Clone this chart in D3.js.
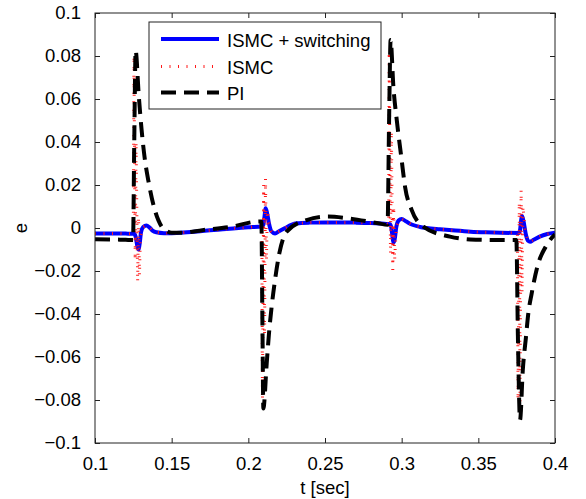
<!DOCTYPE html>
<html>
<head>
<meta charset="utf-8">
<script src="https://cdn.jsdelivr.net/npm/d3@7"></script>
<style>
  body { margin: 0; background: #fff; }
  svg text { font-family: "Liberation Sans", Arial, sans-serif; }
</style>
</head>
<body>
<svg id="chart" width="586" height="499"></svg>
<script>
// data: [t (sec), e]
var xTicks = [0.1, 0.15, 0.2, 0.25, 0.3, 0.35, 0.4];
var yTicks = [-0.1, -0.08, -0.06, -0.04, -0.02, 0, 0.02, 0.04, 0.06, 0.08, 0.1];
var seriesNames = ['ISMC + switching', 'ISMC', 'PI'];

var ismcSwitching = [
  [0.100,-0.0025],[0.110,-0.0025],[0.120,-0.0026],[0.1255,-0.0027],[0.1265,-0.004],
  [0.1275,-0.008],[0.1283,-0.010],[0.1292,-0.007],[0.130,-0.002],[0.1315,0.0005],
  [0.1335,0.0012],[0.1355,0.0003],[0.1375,-0.0012],[0.140,-0.002],[0.145,-0.0024],
  [0.150,-0.0024],[0.160,-0.002],[0.170,-0.0014],[0.180,-0.0008],[0.190,-0.0002],
  [0.200,0.0003],[0.209,0.0008],[0.2098,0.0015],[0.2105,0.005],[0.2113,0.0092],
  [0.2122,0.007],[0.2135,0.002],[0.215,-0.0015],[0.2174,-0.0025],[0.220,-0.0015],
  [0.224,0.0],[0.228,0.0015],[0.2315,0.0022],[0.240,0.0025],[0.250,0.0026],
  [0.260,0.0026],[0.270,0.0025],[0.280,0.0023],[0.290,0.0019],[0.2925,0.0018],
  [0.2933,0.0],[0.294,-0.004],[0.2946,-0.0068],[0.2955,-0.005],[0.2965,0.0005],
  [0.298,0.0035],[0.300,0.0042],[0.303,0.003],[0.307,0.0015],[0.312,0.0005],
  [0.3163,0.0],[0.325,-0.0006],[0.335,-0.0012],[0.345,-0.0017],[0.355,-0.002],
  [0.365,-0.0022],[0.3765,-0.0023],[0.3772,-0.001],[0.378,0.004],[0.3785,0.0056],
  [0.3795,0.003],[0.381,-0.003],[0.3825,-0.006],[0.3837,-0.0064],[0.386,-0.0055],
  [0.390,-0.004],[0.395,-0.0028],[0.400,-0.0022]
];

var ismc = [
  [0.100,-0.0025],[0.110,-0.0025],[0.120,-0.0026],[0.1250,-0.0027],
  [0.1254,0.080],[0.1262,-0.015],[0.1268,0.040],[0.1278,-0.025],[0.1284,0.005],
  [0.1290,-0.022],[0.1296,-0.004],
  [0.1315,0.0005],[0.1335,0.0012],[0.1355,0.0003],[0.1375,-0.0012],[0.140,-0.002],
  [0.145,-0.0024],[0.150,-0.0024],[0.160,-0.002],[0.170,-0.0014],[0.180,-0.0008],
  [0.190,-0.0002],[0.200,0.0003],[0.2088,0.0008],
  [0.2092,-0.080],[0.2100,0.020],[0.2106,-0.050],[0.2112,0.023],[0.2118,-0.015],
  [0.2124,0.008],[0.2135,0.002],
  [0.215,-0.0015],[0.2174,-0.0025],[0.220,-0.0015],[0.224,0.0],[0.228,0.0015],
  [0.2315,0.0022],[0.240,0.0025],[0.250,0.0026],[0.260,0.0026],[0.270,0.0025],
  [0.280,0.0023],[0.290,0.0019],[0.2915,0.0018],
  [0.2919,0.082],[0.2927,-0.012],[0.2933,0.045],[0.2942,-0.0195],[0.2948,0.010],
  [0.2954,-0.015],[0.2965,0.0005],
  [0.298,0.0035],[0.300,0.0042],[0.303,0.003],[0.307,0.0015],[0.312,0.0005],
  [0.3163,0.0],[0.325,-0.0006],[0.335,-0.0012],[0.345,-0.0017],[0.355,-0.002],
  [0.365,-0.0022],[0.3755,-0.0023],
  [0.3759,-0.080],[0.3767,0.012],[0.3772,-0.081],[0.3779,0.0177],[0.3785,-0.030],
  [0.3791,0.010],[0.3805,-0.001],
  [0.381,-0.003],[0.3825,-0.006],[0.3837,-0.0064],[0.386,-0.0055],[0.390,-0.004],
  [0.395,-0.0028],[0.400,-0.0022]
];

var piCtrl = [
  [0.100,-0.0052],[0.110,-0.0053],[0.120,-0.0055],[0.1248,-0.0056],
  [0.1256,0.040],[0.1265,0.0825],[0.1285,0.062],[0.1304,0.0456],[0.1325,0.032],
  [0.1348,0.022],[0.139,0.0084],[0.1435,0.0006],[0.147,-0.0015],[0.150,-0.0022],
  [0.1565,-0.0022],[0.170,-0.0010],[0.1913,0.0009],[0.2043,0.0029],[0.2085,0.003],
  [0.2092,-0.045],[0.2098,-0.0839],[0.212,-0.0628],[0.2135,-0.0488],[0.2152,-0.0366],
  [0.2174,-0.0242],[0.2202,-0.0118],[0.225,-0.0017],[0.238,0.0037],[0.252,0.0053],
  [0.265,0.0045],[0.2847,0.0022],[0.2908,0.0015],
  [0.2918,0.050],[0.2928,0.0874],[0.2946,0.0657],[0.2968,0.0502],[0.300,0.0316],
  [0.3022,0.0192],[0.3065,0.0084],[0.3141,0.0006],[0.3315,-0.004],[0.3446,-0.0053],
  [0.361,-0.0056],[0.3748,-0.0056],
  [0.3758,-0.050],[0.3772,-0.0893],[0.379,-0.066],[0.3811,-0.0505],[0.3826,-0.0397],
  [0.3848,-0.0304],[0.3885,-0.018],[0.3946,-0.0079],[0.400,-0.003]
];

var margin = {top: 13, right: 31, bottom: 56, left: 95},
    width = 586 - margin.left - margin.right,
    height = 499 - margin.top - margin.bottom;

var svg = d3.select('#chart');
var g = svg.append('g')
    .attr('transform', 'translate(' + margin.left + ',' + margin.top + ')');

var x = d3.scaleLinear().domain([0.1, 0.4]).range([0, width]);
var y = d3.scaleLinear().domain([-0.1, 0.1]).range([height, 0]);

var fmt = function(d) { return d3.format('')(+d.toFixed(3)).replace('-', '\u2212'); };

g.append('clipPath').attr('id', 'clip')
  .append('rect').attr('width', width).attr('height', height);

var smooth = d3.line()
    .x(function(d) { return x(d[0]); })
    .y(function(d) { return y(d[1]); })
    .curve(d3.curveMonotoneX);
var straight = d3.line()
    .x(function(d) { return x(d[0]); })
    .y(function(d) { return y(d[1]); });

var plot = g.append('g').attr('clip-path', 'url(#clip)');

plot.append('path')
    .datum(ismcSwitching)
    .attr('d', smooth)
    .attr('fill', 'none')
    .attr('stroke', '#0000ff')
    .attr('stroke-width', 4)
    .attr('stroke-linejoin', 'round');

plot.append('path')
    .datum(ismc)
    .attr('d', straight)
    .attr('fill', 'none')
    .attr('stroke', '#ff1a1a')
    .attr('stroke-width', 3)
    .attr('stroke-dasharray', '1,7.5');

plot.append('path')
    .datum(piCtrl)
    .attr('d', smooth)
    .attr('fill', 'none')
    .attr('stroke', '#000')
    .attr('stroke-width', 4)
    .attr('stroke-dasharray', '15,8');

// axes, ticks inside on all four sides
var axisColor = '#222';
function styleAxis(sel) {
  sel.select('.domain').remove();
  sel.selectAll('line').attr('stroke', axisColor);
  sel.selectAll('text')
    .attr('fill', '#000')
    .style('font-size', '18.5px');
}

g.append('g')
  .attr('transform', 'translate(0,' + height + ')')
  .call(d3.axisBottom(x).tickValues(xTicks).tickSize(-5).tickPadding(14).tickFormat(fmt))
  .call(styleAxis);

g.append('g')
  .call(d3.axisTop(x).tickValues(xTicks).tickSize(-5).tickFormat(''))
  .call(styleAxis);

g.append('g')
  .call(d3.axisLeft(y).tickValues(yTicks).tickSize(-5).tickPadding(14).tickFormat(fmt))
  .call(styleAxis);

g.append('g')
  .attr('transform', 'translate(' + width + ',0)')
  .call(d3.axisRight(y).tickValues(yTicks).tickSize(-5).tickFormat(''))
  .call(styleAxis);

g.append('rect')
  .attr('width', width).attr('height', height)
  .attr('fill', 'none')
  .attr('stroke', axisColor)
  .attr('stroke-width', 1);

// axis labels
svg.append('text')
  .attr('x', margin.left + width / 2)
  .attr('y', 494)
  .attr('text-anchor', 'middle')
  .style('font-size', '18.5px')
  .text('t [sec]');

svg.append('text')
  .attr('transform', 'translate(27,' + (margin.top + height / 2) + ') rotate(-90)')
  .attr('text-anchor', 'middle')
  .style('font-size', '18.5px')
  .text('e');

// legend
var legend = svg.append('g').attr('transform', 'translate(149,22)');
legend.append('rect')
  .attr('width', 232).attr('height', 87)
  .attr('fill', '#fff')
  .attr('stroke', axisColor)
  .attr('stroke-width', 1);

var legendStyles = [
  {stroke: '#0000ff', width: 4, dash: null},
  {stroke: '#ff1a1a', width: 3, dash: '1,7.5'},
  {stroke: '#000', width: 4, dash: '15,8'}
];
var legendY = [17, 44.5, 70.5];

seriesNames.forEach(function(name, i) {
  var s = legendStyles[i];
  legend.append('line')
    .attr('x1', 12).attr('x2', 70)
    .attr('y1', legendY[i]).attr('y2', legendY[i])
    .attr('stroke', s.stroke)
    .attr('stroke-width', s.width)
    .attr('stroke-dasharray', s.dash);
  legend.append('text')
    .attr('x', 78)
    .attr('y', legendY[i] + 7.5)
    .style('font-size', '18.5px')
    .text(name);
});
</script>
</body>
</html>
